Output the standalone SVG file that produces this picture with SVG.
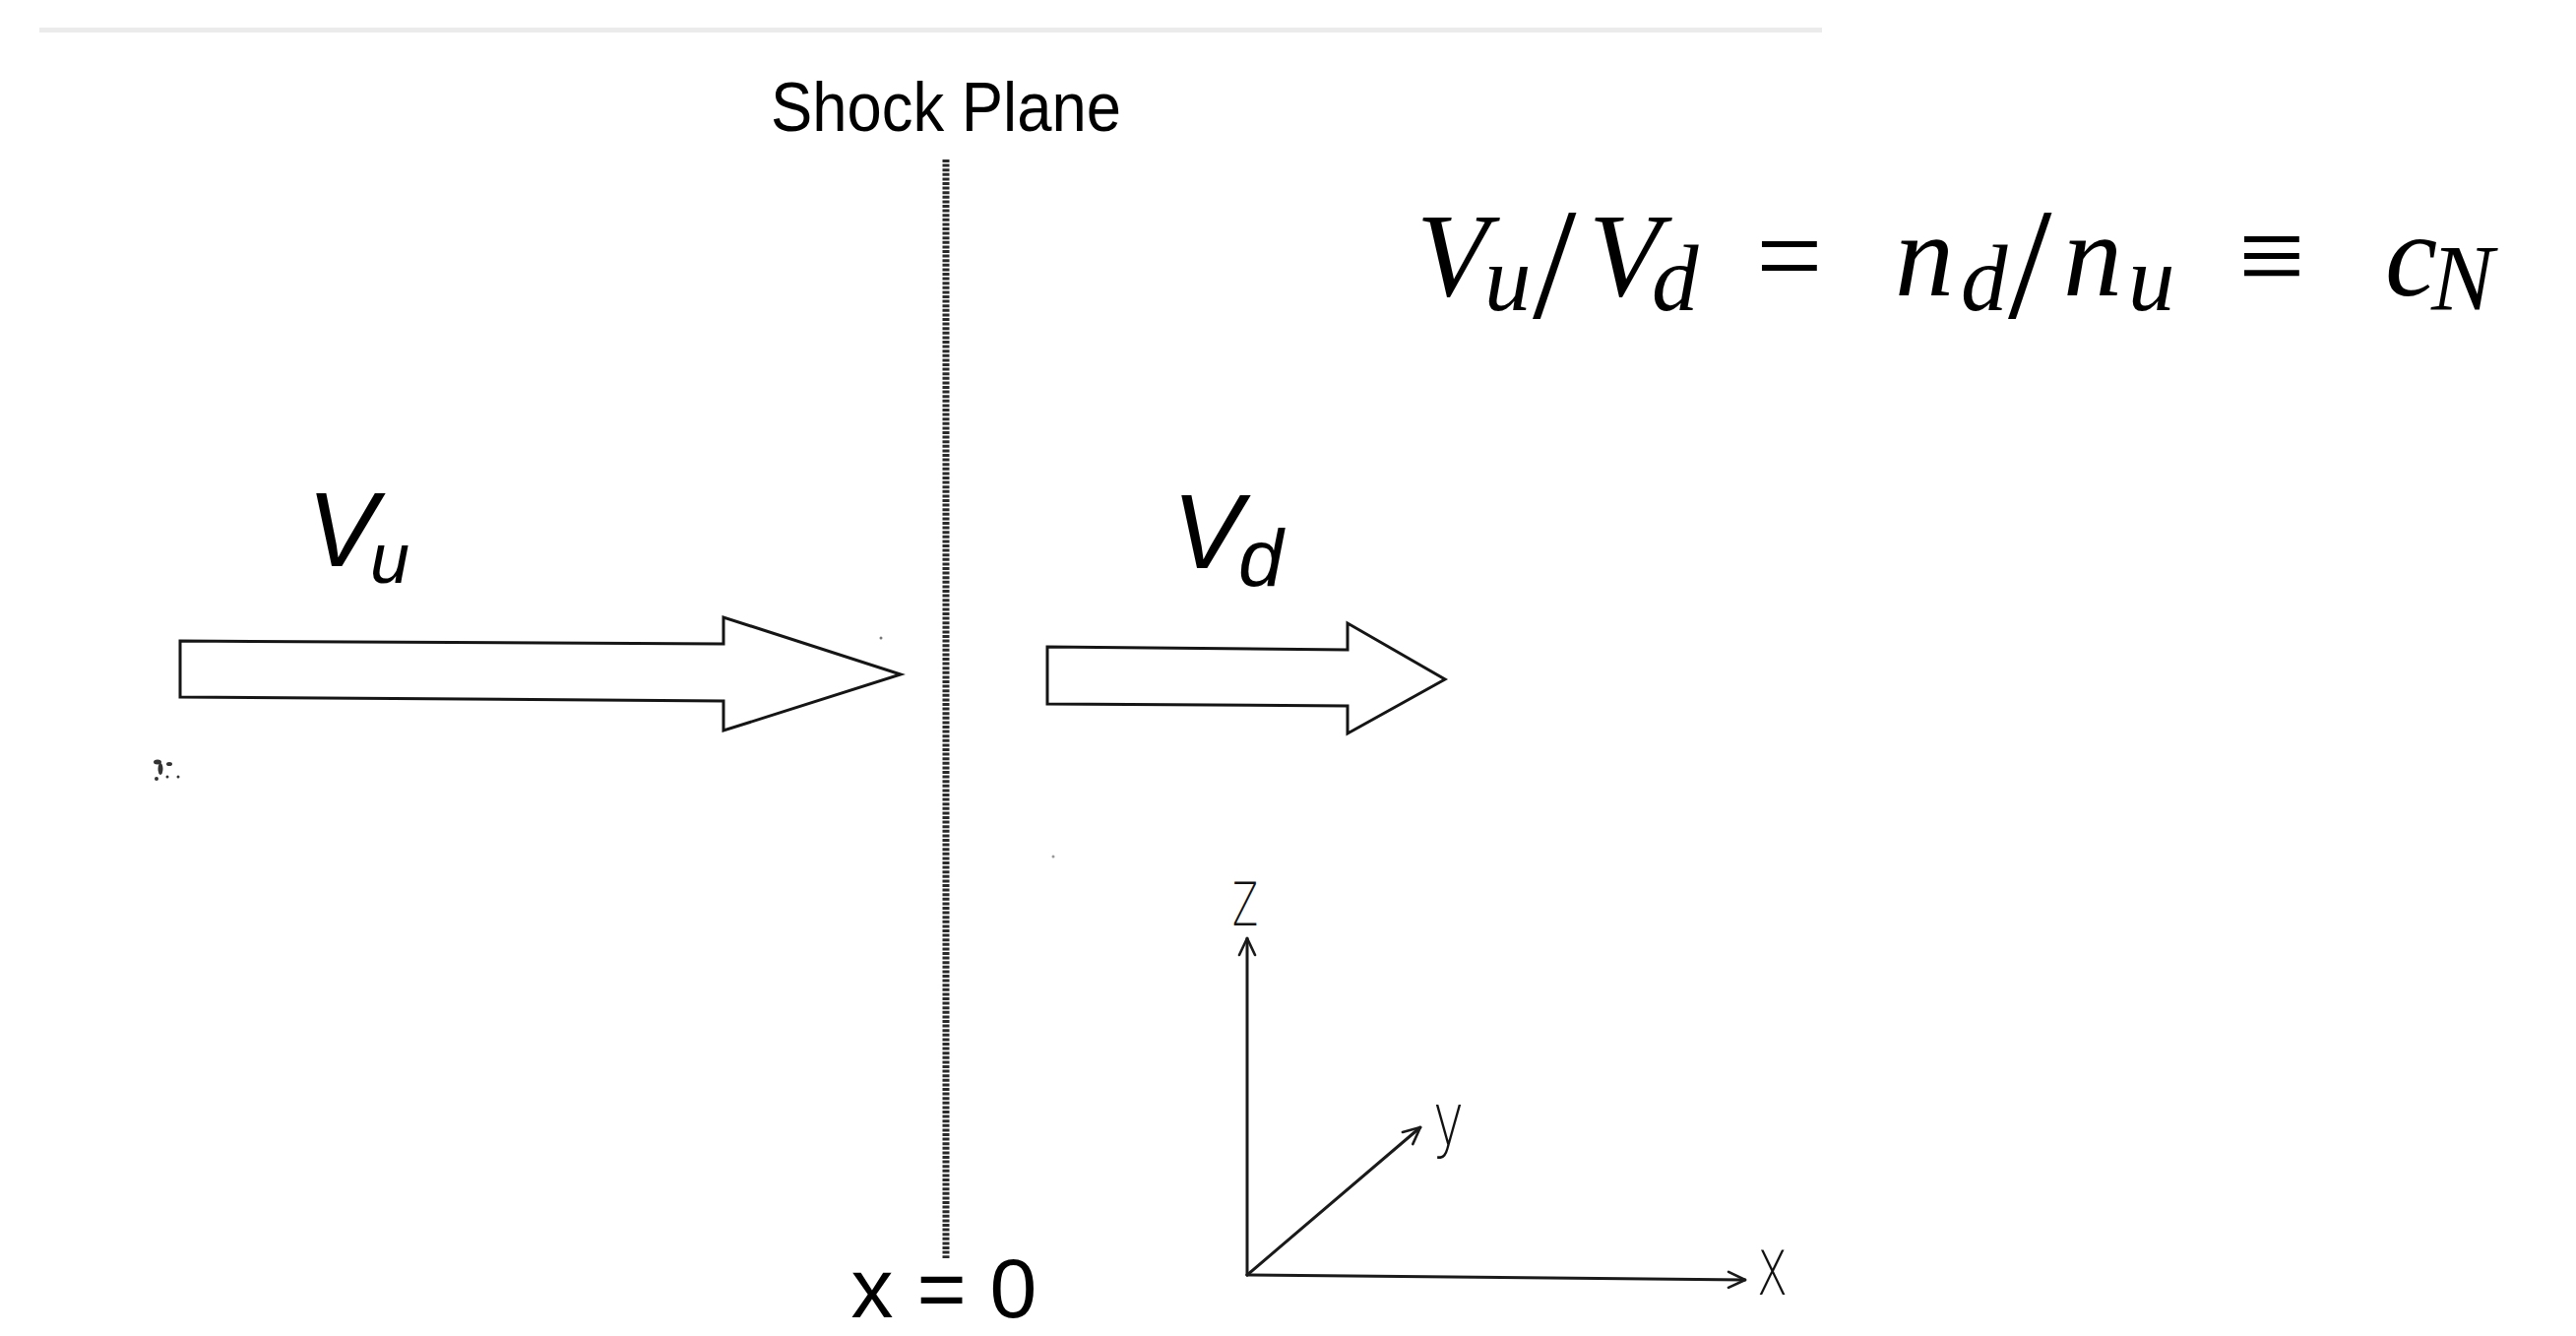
<svg xmlns="http://www.w3.org/2000/svg" width="2617" height="1357" viewBox="0 0 2617 1357">
  <style>
    .block { fill: #ffffff; stroke: #151515; stroke-width: 3; stroke-linejoin: miter; }
    .axis { fill: none; stroke: #1a1a1a; stroke-width: 3; stroke-linecap: round; }
    .lbl { font-family: "Liberation Sans", Arial, sans-serif; fill: #000; }
    .vel { font-family: "Liberation Sans", Arial, sans-serif; font-style: italic; fill: #000; }
    .ax { font-family: "DejaVu Sans", "Liberation Sans", sans-serif; font-weight: 200; fill: #111; }
    .m { font-family: "Liberation Serif", "DejaVu Serif", serif; font-style: italic; fill: #000; }
    .up { font-style: normal; }
    .sub { font-size: 95px; }
  </style>
  <defs>
    <marker id="openHead" viewBox="0 0 20 20" refX="19" refY="10" markerWidth="20" markerHeight="20" markerUnits="userSpaceOnUse" orient="auto">
      <path d="M2,2 L19,10 L2,18" fill="none" stroke="#1a1a1a" stroke-width="2.6" stroke-linecap="round" stroke-linejoin="round"/>
    </marker>
  </defs>
  <rect x="0" y="0" width="2617" height="1357" fill="#ffffff"/>
  <rect id="top-rule" x="40" y="28" width="1811" height="5" fill="#ebebeb"/>

  <g id="shock-plane">
    <text class="lbl" x="961" y="133" font-size="70" text-anchor="middle" textLength="356" lengthAdjust="spacingAndGlyphs">Shock Plane</text>
    <line x1="961" y1="162" x2="961" y2="1278" stroke="#2a2a2a" stroke-width="7" stroke-dasharray="3 1.6"/>
    <text class="lbl" x="959" y="1338" font-size="86" text-anchor="middle">x = 0</text>
  </g>

  <g id="formula">
    <text class="m" font-size="120"><tspan x="1439" y="300">V</tspan><tspan class="sub" x="1508" y="315">u</tspan><tspan class="up" x="1557" y="322" font-size="160">/</tspan><tspan x="1614" y="300">V</tspan><tspan class="sub" x="1678" y="315">d</tspan><tspan class="up" x="1784" y="300">=</tspan><tspan x="1925" y="300">n</tspan><tspan class="sub" x="1992" y="315">d</tspan><tspan class="up" x="2040" y="322" font-size="160">/</tspan><tspan x="2096" y="300">n</tspan><tspan class="sub" x="2162" y="315">u</tspan><tspan class="up" x="2274" y="300">≡</tspan><tspan x="2423" y="300">c</tspan><tspan class="sub" x="2470" y="315">N</tspan></text>
  </g>

  <g id="upstream">
    <text class="vel" font-size="107"><tspan x="312" y="575">V</tspan><tspan x="376" y="592" font-size="72">u</tspan></text>
    <polygon class="block" points="183,651 735,654 735,627 915,685 735,742 735,712 183,708"/>
  </g>

  <g id="downstream">
    <text class="vel" font-size="107"><tspan x="1191" y="577">V</tspan><tspan x="1258" y="595" font-size="82">d</tspan></text>
    <polygon class="block" points="1064,657 1369,660 1369,633 1468,690 1369,745 1369,717 1064,715"/>
  </g>

  <g id="axes-labels">
    <text class="ax" x="1252" y="940" font-size="60" textLength="26" lengthAdjust="spacingAndGlyphs">Z</text>
    <text class="ax" x="1456" y="1163" font-size="74" textLength="31" lengthAdjust="spacingAndGlyphs">y</text>
    <text class="ax" x="1785" y="1315" font-size="62" textLength="31" lengthAdjust="spacingAndGlyphs">X</text>
  </g>

  <g id="connectors">
    <line class="axis" x1="1267" y1="1295" x2="1267" y2="953" marker-end="url(#openHead)"/>
    <line class="axis" x1="1267" y1="1295" x2="1443" y2="1145" marker-end="url(#openHead)"/>
    <line class="axis" x1="1267" y1="1295" x2="1773" y2="1300" marker-end="url(#openHead)"/>
  </g>

  <g id="specks" fill="#333">
    <ellipse cx="160" cy="774" rx="4" ry="2.5"/>
    <ellipse cx="163" cy="781" rx="2.5" ry="6"/>
    <ellipse cx="172" cy="776" rx="3" ry="2"/>
    <circle cx="159" cy="791" r="2"/>
    <circle cx="170" cy="789" r="1.5"/>
    <circle cx="181" cy="789" r="1.5"/>
    <circle cx="895" cy="648" r="1.5" fill="#777"/>
    <circle cx="1070" cy="870" r="1.5" fill="#999"/>
  </g>
</svg>
